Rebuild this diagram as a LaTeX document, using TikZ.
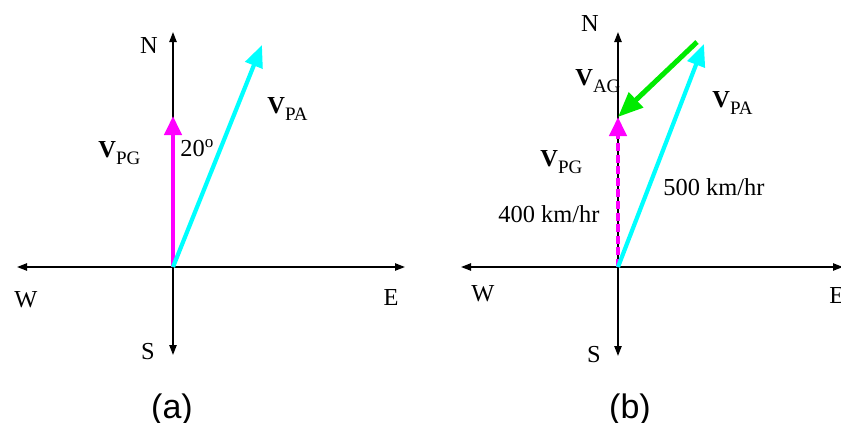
\documentclass[tikz,border=0pt]{standalone}
\usepackage{fontspec}
\setmainfont{Liberation Serif}
\newfontfamily\capfont{Liberation Sans}
\usetikzlibrary{arrows.meta}
\newcommand\vlabel[1]{\textbf{V}\raisebox{-3.5pt}{\fontsize{9.5}{9.5}\selectfont #1}}
\definecolor{vmag}{RGB}{255,0,255}
\definecolor{vcyan}{RGB}{0,255,255}
\definecolor{vgreen}{RGB}{0,235,0}
\begin{document}
\begin{tikzpicture}[x=0.5pt,y=-0.5pt,font=\fontsize{12.2}{14}\selectfont,
  axis/.style={line width=0.85pt,{Triangle[length=5pt,width=3.6pt]}-{Triangle[length=5pt,width=3.6pt]}},
  vec/.style={line width=2.1pt,-{Triangle[length=9.5pt,width=8.5pt]}},
  veccy/.style={line width=2.1pt,-{Triangle[length=11pt,width=9pt]}},
  vecgr/.style={line width=2.5pt,-{Triangle[length=12.5pt,width=10pt]}},
  lbl/.style={inner sep=0pt,anchor=base west},
  dir/.style={inner sep=0pt,anchor=base},
  captxt/.style={inner sep=0pt,anchor=base,font=\capfont\fontsize{17}{19}\selectfont}]
\useasboundingbox (0,0) rectangle (841,423);
% ---------- panel (a)
\coordinate (Oa) at (173,267);
\coordinate (Wa) at (17,267);
\coordinate (Ea) at (405,267);
\coordinate (Na) at (173,32);
\coordinate (Sa) at (173,355);
\coordinate (PGa) at (173,116);
\coordinate (PAa) at (262,45);
\draw[axis] (Wa) -- (Ea);
\draw[axis] (Sa) -- (Na);
\draw[vec,vmag] (Oa) -- (PGa);
\draw[veccy,vcyan] (Oa) -- (PAa);
\node[dir] (nN1) at (149,54) {N};
\node[dir] (nW1) at (26,307) {W};
\node[dir] (nE1) at (391,305) {E};
\node[dir] (nS1) at (148,359) {S};
\node[lbl] (vpg1) at (98,157) {\vlabel{PG}};
\node[lbl] (ang) at (180,156) {20\textsuperscript{o}};
\node[lbl] (vpa1) at (267,113) {\vlabel{PA}};
\node[captxt] (capa) at (172,418) {(a)};
% ---------- panel (b)
\coordinate (Ob) at (618,267);
\coordinate (Wb) at (461,267);
\coordinate (Eb) at (843,267);
\coordinate (Nb) at (618,32);
\coordinate (Sb) at (618,356);
\coordinate (PGb) at (618,117);
\coordinate (PAb) at (704,44);
\coordinate (AGs) at (697,42);
\draw[axis] (Wb) -- (Eb);
\draw[axis] (Sb) -- (Nb);
\draw[vec,vmag,dash pattern=on 4pt off 1.8pt] (Ob) -- (PGb);
\draw[veccy,vcyan] (Ob) -- (PAb);
\draw[vecgr,vgreen] (AGs) -- (PGb);
\node[dir] (nN2) at (590,32) {N};
\node[dir] (nW2) at (483,301) {W};
\node[lbl] (nE2) at (829,303) {E};
\node[dir] (nS2) at (594,362) {S};
\node[lbl] (vag) at (575,85) {\vlabel{AG}};
\node[lbl] (vpa2) at (712,107) {\vlabel{PA}};
\node[lbl] (vpg2) at (540,166) {\vlabel{PG}};
\node[lbl] (s500) at (663,195) {500 km/hr};
\node[lbl] (s400) at (498,222) {400 km/hr};
\node[captxt] (capb) at (630,418) {(b)};
\end{tikzpicture}
\end{document}
